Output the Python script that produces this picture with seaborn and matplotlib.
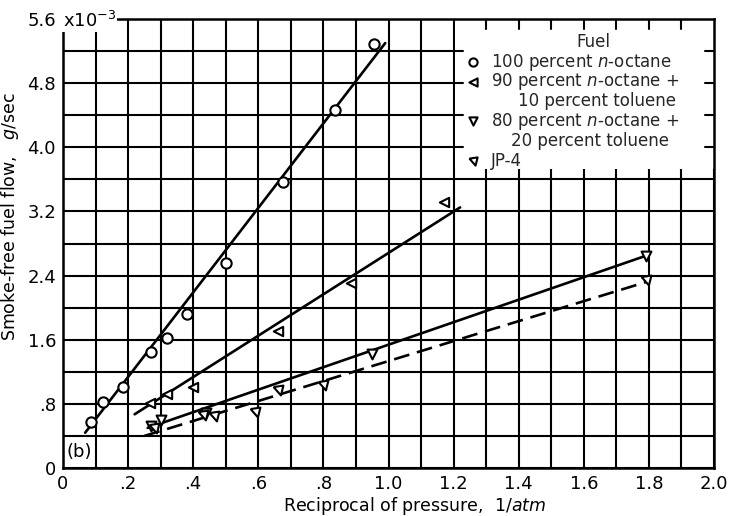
import numpy as np
import pandas as pd
import matplotlib
matplotlib.use("Agg")
import matplotlib.pyplot as plt
from matplotlib.patches import Rectangle
from matplotlib.ticker import MultipleLocator, FuncFormatter
import seaborn as sns

# Smoke-free fuel flow (g/sec x 1e-3) against reciprocal of pressure (1/atm)
octane_x = [0.087, 0.123, 0.185, 0.27, 0.32, 0.38, 0.50, 0.675, 0.835, 0.955]
octane_y = [0.57, 0.82, 1.01, 1.45, 1.62, 1.92, 2.56, 3.57, 4.46, 5.29]

tol10_x = [0.267, 0.32, 0.40, 0.66, 0.885, 1.17]
tol10_y = [0.81, 0.92, 1.01, 1.71, 2.31, 3.32]

tol20_x = [0.27, 0.30, 0.44, 0.95, 1.79]
tol20_y = [0.53, 0.60, 0.68, 1.42, 2.65]

jp4_x = [0.28, 0.43, 0.465, 0.59, 0.66, 0.80, 1.79]
jp4_y = [0.50, 0.66, 0.65, 0.70, 0.97, 1.03, 2.34]

# Faired lines through each fuel's data (end points)
octane_fit_x = [0.068, 0.99]
octane_fit_y = [0.44, 5.30]
tol10_fit_x = [0.22, 1.22]
tol10_fit_y = [0.67, 3.25]
tol20_fit_x = [0.26, 1.80]
tol20_fit_y = [0.50, 2.66]
jp4_fit_x = [0.25, 1.80]
jp4_fit_y = [0.40, 2.33]

fuel_labels = [
    "100 percent $n$-octane",
    "90 percent $n$-octane +",
    "80 percent $n$-octane +",
    "JP-4",
]
fuel_second_lines = ["", "10 percent toluene", "20 percent toluene", ""]

x_tick_values = [0, 0.2, 0.4, 0.6, 0.8, 1.0, 1.2, 1.4, 1.6, 1.8, 2.0]
y_tick_values = [0, 0.8, 1.6, 2.4, 3.2, 4.0, 4.8, 5.6]

sns.set_theme(style="white")
plt.rcParams["font.family"] = ["DejaVu Sans"]
plt.rcParams["mathtext.fontset"] = "dejavusans"

jp4_marker = [(-1.0, 0.7), (1.0, 1.0), (0.5, -1.0), (-1.0, 0.7)]
markers = ["o", "<", "v", jp4_marker]
sizes = [55, 45, 50, 50]

series = [
    (octane_x, octane_y, octane_fit_x, octane_fit_y, "-"),
    (tol10_x, tol10_y, tol10_fit_x, tol10_fit_y, "-"),
    (tol20_x, tol20_y, tol20_fit_x, tol20_fit_y, "-"),
    (jp4_x, jp4_y, jp4_fit_x, jp4_fit_y, (0, (6, 3))),
]

fig = plt.figure(figsize=(7.41, 5.16), dpi=100)
ax = fig.add_axes([63 / 741, 48 / 516, 651 / 741, 449 / 516])

for (xs, ys, fx, fy, ls), mk, sz in zip(series, markers, sizes):
    fit = pd.DataFrame({"x": fx, "y": fy})
    sns.lineplot(data=fit, x="x", y="y", ax=ax, color="black", lw=1.9,
                 linestyle=ls, zorder=3, estimator=None, sort=False)
    pts = pd.DataFrame({"x": xs, "y": ys})
    sns.scatterplot(data=pts, x="x", y="y", ax=ax, marker=mk, s=sz,
                    facecolor="white", edgecolor="black", linewidth=1.5, zorder=4)

ax.set_xlim(0, 2.0)
ax.set_ylim(0, 5.6)
ax.set_xticks(x_tick_values)
ax.set_yticks(y_tick_values)
ax.xaxis.set_minor_locator(MultipleLocator(0.1))
ax.yaxis.set_minor_locator(MultipleLocator(0.4))


def short_label(v, pos=None):
    s = f"{v:.1f}"
    if v == 0:
        return "0"
    if s.startswith("0"):
        s = s[1:]
    return s


ax.xaxis.set_major_formatter(FuncFormatter(short_label))
ax.yaxis.set_major_formatter(FuncFormatter(short_label))
ax.tick_params(which="major", length=3, width=1.5, color="black", labelsize=13,
               pad=2, labelcolor="black")
ax.tick_params(which="minor", length=0)
ax.set_axisbelow(True)
ax.grid(which="both", color="black", lw=1.5)
for sp in ax.spines.values():
    sp.set_color("black")
    sp.set_linewidth(1.8)

ax.set_xlabel("Reciprocal of pressure,  1/$atm$", fontsize=12.5, color="black")
ax.xaxis.set_label_coords(0.54, -0.06)
ax.set_ylabel("Smoke-free fuel flow,   $g$/sec", fontsize=12.5, color="black")
ax.yaxis.set_label_coords(-0.064, 0.56)

# Exponent next to the top y label
ax.text(0.0, 0.995, "x10$^{-3}$", transform=ax.transAxes, ha="left", va="center",
        fontsize=13, color="black", zorder=10, clip_on=False,
        bbox=dict(facecolor="white", edgecolor="none", pad=0.5))

ax.text(0.05, 0.2, "(b)", ha="center", va="center", fontsize=13, color="black")

# Key area: blank out the grid, leaving short stubs at the edges
box_x0, box_y0 = 1.2, 3.73
ax.add_patch(Rectangle((box_x0 + 0.004, box_y0), 2.0 - box_x0, 5.6 - box_y0,
                       facecolor="white", edgecolor="none", zorder=1))
for gx in np.arange(1.3, 2.0, 0.1):
    ax.plot([gx, gx], [5.6, 5.6 - 0.13], color="black", lw=1.5, zorder=1.5)
for gy in np.arange(4.0, 5.5, 0.4):
    ax.plot([box_x0, box_x0 + 0.028], [gy, gy], color="black", lw=1.5, zorder=1.5)
    ax.plot([2.0 - 0.028, 2.0], [gy, gy], color="black", lw=1.5, zorder=1.5)


def ax_y(py):
    return (468 - py) / 449


def ax_x(px):
    return (px - 63) / 651


key_fs = 12
ax.text(ax_x(593), ax_y(42), "Fuel", transform=ax.transAxes, ha="center",
        va="center", fontsize=key_fs, zorder=5)
row_y = [62, 82, 121, 161]
second_y = [None, 101, 141, None]
second_x = [None, 518, 511, None]
for mk, lab, sec, ry, sy, sx in zip(markers, fuel_labels, fuel_second_lines,
                                    row_y, second_y, second_x):
    ax.scatter([ax_x(473)], [ax_y(ry)], transform=ax.transAxes, marker=mk,
               s=35, facecolor="white", edgecolor="black", linewidth=1.5,
               zorder=5, clip_on=False)
    ax.text(ax_x(491), ax_y(ry), lab, transform=ax.transAxes, ha="left",
            va="center", fontsize=key_fs, zorder=5)
    if sec:
        ax.text(ax_x(sx), ax_y(sy), sec, transform=ax.transAxes, ha="left",
                va="center", fontsize=key_fs, zorder=5)

fig.savefig("out.png", dpi=100, facecolor="white")
